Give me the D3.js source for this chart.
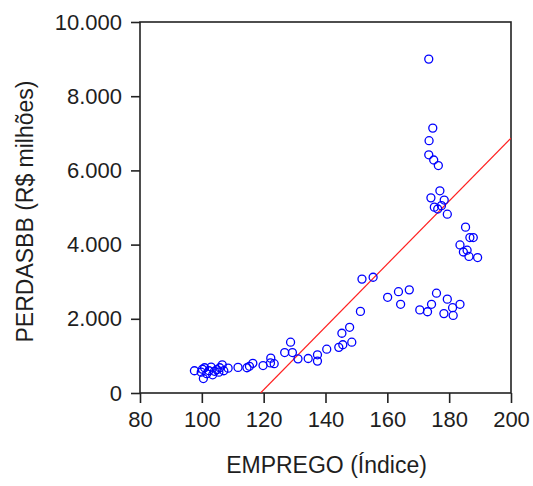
<!DOCTYPE html>
<html lang="pt-BR">

<head>
    <meta charset="UTF-8">
    <title>PERDASBB x EMPREGO</title>
    <script src="https://d3js.org/d3.v7.min.js"></script>
    <style>
        body {
            margin: 0;
            background: #fff;
        }

        text {
            font-family: "Liberation Sans", Arial, sans-serif;
            fill: #1e1e1e;
        }
    </style>
</head>

<body>
    <svg width="533" height="486"></svg>

    <script>
        // dados (EMPREGO índice, PERDASBB R$ milhões)
        const emprego = [
            97.6, 99.8, 100.2, 100.5, 100.9, 101.6, 102.3, 103.0, 103.5, 104.1,
            104.9, 105.5, 105.8, 106.6, 107.1, 108.5, 111.7, 114.6, 115.4, 116.5,
            119.8, 122.2, 122.3, 123.4, 126.8, 128.7, 129.3, 131.1, 134.4, 137.4,
            137.4, 140.4, 144.3, 145.6, 145.3, 147.8, 148.5, 151.3, 151.8, 155.4,
            160.1, 163.6, 164.3, 167.1, 170.5, 173.0, 174.3, 175.9, 179.4, 181.1,
            183.5, 178.3, 181.3, 173.4, 174.7, 173.5, 173.4, 175.0, 176.5, 177.0,
            174.1, 178.4, 175.2, 176.3, 177.5, 179.4, 185.3, 186.7, 187.8, 183.5,
            184.6, 185.8, 186.4, 189.2
        ];
        const perdas = [
            600, 560, 640, 390, 680, 520, 600, 700, 490, 585,
            630, 560, 680, 760, 600, 670, 690, 680, 720, 800,
            740, 810, 940, 790, 1090, 1370, 1090, 920, 930, 1030,
            860, 1180, 1230, 1300, 1610, 1770, 1370, 2200, 3070, 3120,
            2580, 2730, 2390, 2780, 2240, 2190, 2390, 2690, 2530, 2300,
            2390, 2140, 2090, 9000, 7140, 6800, 6420, 6280, 6130, 5450,
            5260, 5200, 5010, 4960, 5050, 4820, 4470, 4190, 4190, 3990,
            3800, 3850, 3680, 3650
        ];

        // reta ajustada: intercepto, inclinação
        const fitCoef = [-10090, 84.8];

        const xTicks = [80, 100, 120, 140, 160, 180, 200];
        const yTicks = [0, 2000, 4000, 6000, 8000, 10000];

        const data = emprego.map((e, i) => ({ x: e, y: perdas[i] }));

        const pLeft = 140, pRight = 511, pTop = 22, pBottom = 393;

        const svg = d3.select("svg");

        const x = d3.scaleLinear().domain([80, 200]).range([pLeft, pRight]);
        const y = d3.scaleLinear().domain([0, 10000]).range([pBottom, pTop]);

        // separador de milhar com ponto
        const br = d3.formatLocale({ decimal: ",", thousands: ".", grouping: [3], currency: ["R$", ""] });
        const fmt = br.format(",d");

        // eixo x
        const gx = svg.append("g")
            .attr("transform", `translate(0,${pBottom})`)
            .call(d3.axisBottom(x).tickValues(xTicks).tickSize(10).tickPadding(8));

        // eixo y
        const gy = svg.append("g")
            .attr("transform", `translate(${pLeft},0)`)
            .call(d3.axisLeft(y).tickValues(yTicks).tickFormat(fmt).tickSize(9).tickPadding(9));

        [gx, gy].forEach(g => {
            g.select(".domain").remove();
            g.selectAll(".tick line").attr("stroke", "#222").attr("stroke-width", 1.6);
            g.selectAll(".tick text")
                .style("font-family", '"Liberation Sans", Arial, sans-serif')
                .style("font-size", "22px")
                .attr("fill", "#1e1e1e");
        });

        // moldura
        svg.append("rect")
            .attr("x", pLeft)
            .attr("y", pTop)
            .attr("width", pRight - pLeft)
            .attr("height", pBottom - pTop)
            .attr("fill", "none")
            .attr("stroke", "#222")
            .attr("stroke-width", 1.6);

        svg.append("clipPath").attr("id", "plot")
            .append("rect")
            .attr("x", pLeft).attr("y", pTop)
            .attr("width", pRight - pLeft).attr("height", pBottom - pTop);

        // reta de regressão
        const fx = v => fitCoef[0] + fitCoef[1] * v;
        const x0 = -fitCoef[0] / fitCoef[1];
        svg.append("line")
            .attr("clip-path", "url(#plot)")
            .attr("x1", x(x0))
            .attr("y1", y(fx(x0)))
            .attr("x2", x(200))
            .attr("y2", y(fx(200)))
            .attr("stroke", "#ff2020")
            .attr("stroke-width", 1.2);

        // pontos
        svg.append("g")
            .selectAll("circle")
            .data(data)
            .enter().append("circle")
            .attr("cx", d => x(d.x))
            .attr("cy", d => y(d.y))
            .attr("r", 4)
            .attr("fill", "none")
            .attr("stroke", "#0000ff")
            .attr("stroke-width", 1.3);

        // títulos dos eixos
        svg.append("text")
            .attr("x", (pLeft + pRight) / 2 + 1)
            .attr("y", 473)
            .attr("text-anchor", "middle")
            .style("font-size", "23px")
            .text("EMPREGO (Índice)");

        svg.append("text")
            .attr("transform", `translate(33,${(pTop + pBottom) / 2 + 4}) rotate(-90)`)
            .attr("text-anchor", "middle")
            .style("font-size", "23px")
            .text("PERDASBB (R$ milhões)");
    </script>
</body>

</html>
